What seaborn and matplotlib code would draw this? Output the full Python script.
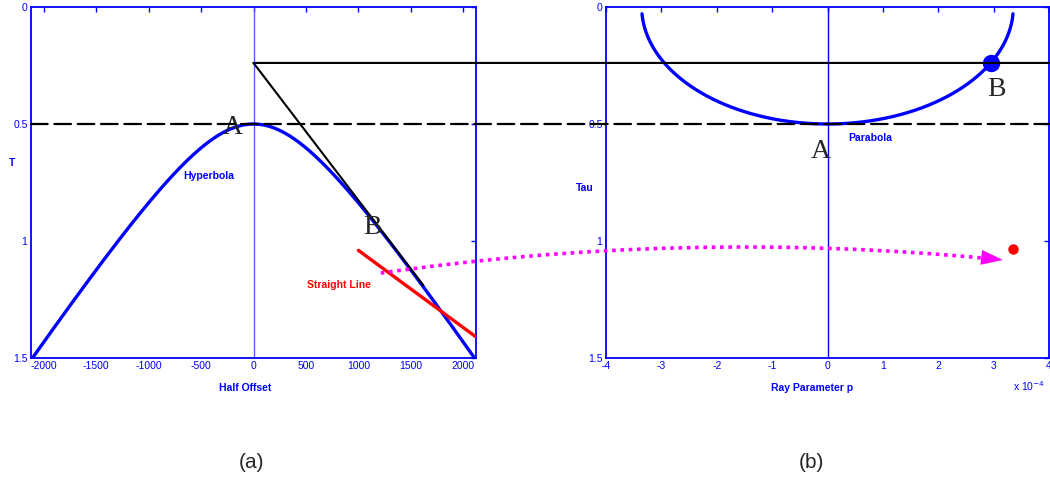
import numpy as np
import pandas as pd
import matplotlib
matplotlib.use("Agg")
import matplotlib.pyplot as plt
from matplotlib.patches import ConnectionPatch
import seaborn as sns

# Model parameters: zero-offset time and velocity of the reflection
t0 = 0.5
velocity = 2980.0

# Axis ranges and ticks
half_offset_lim = [-2121, 2121]
half_offset_ticks = [-2000, -1500, -1000, -500, 0, 500, 1000, 1500, 2000]
p_lim = [-4e-4, 4e-4]
p_ticks = [-4e-4, -3e-4, -2e-4, -1e-4, 0, 1e-4, 2e-4, 3e-4, 4e-4]
p_tick_labels = ["-4", "-3", "-2", "-1", "0", "1", "2", "3", "4"]
time_ticks = [0, 0.5, 1, 1.5]
time_tick_labels = ["0", "0.5", "1", "1.5"]

# Tangent at point B and its (tau, p) image
p_B = 2.948e-4
tau_B = 0.239
tangent_h = [0, 1620]
tangent_t = [tau_B, 1.19]

# Straight line in the x-t domain and its image point
line_h = [1000, 2121]
line_t = [1.04, 1.41]
line_point_p = 3.345e-4
line_point_tau = 1.034

# Mapping arrow: start in (h, t), tip in (p, tau)
arrow_start = (1213, 1.137)
arrow_tip = (3.165e-4, 1.081)

# Curves: hyperbola t(h) and its tau-p image
h = np.linspace(half_offset_lim[0], half_offset_lim[1], 600)
t_hyp = np.sqrt(t0**2 + (2 * h / velocity) ** 2)
p_max = 3.35e-4
p = np.linspace(-p_max, p_max, 600)
tau_curve = t0 * np.sqrt(np.clip(1 - (p * velocity) ** 2, 0, None))

hyp_df = pd.DataFrame({"h": h, "t": t_hyp})
par_df = pd.DataFrame({"p": p, "tau": tau_curve})
line_df = pd.DataFrame({"h": line_h, "t": line_t})
tan_df = pd.DataFrame({"h": tangent_h, "t": tangent_t})

sns.set_style("white")
plt.rcParams["font.family"] = ["Liberation Sans", "DejaVu Sans"]

BLUE = "#0000ff"
MAGENTA = "#ff00ff"
W, H = 1050, 482
fig = plt.figure(figsize=(W / 100, H / 100), dpi=100)
ax_a = fig.add_axes([31 / W, 124 / H, 445 / W, 351 / H])
ax_b = fig.add_axes([606 / W, 124 / H, 443 / W, 351 / H])

for ax in (ax_a, ax_b):
    ax.set_facecolor("white")
    for s in ax.spines.values():
        s.set_color(BLUE)
        s.set_linewidth(1.3)
        s.set_visible(True)
    ax.tick_params(direction="in", length=3.5, width=1, colors=BLUE,
                   labelsize=7.5, top=True, right=True, pad=2.5)
    ax.set_ylim(1.5, 0)
    ax.set_yticks(time_ticks)
    ax.set_yticklabels(time_tick_labels)
    ax.set_xlabel("")
    ax.set_ylabel("")

# ---- (a) x-t domain ----
ax_a.axvline(0, color="#5a5aff", lw=1.0, zorder=1)
sns.lineplot(data=hyp_df, x="h", y="t", ax=ax_a, color=BLUE, lw=2.4,
             sort=False, zorder=3)
sns.lineplot(data=line_df, x="h", y="t", ax=ax_a, color="#ff0000", lw=2.4,
             sort=False, zorder=4)
sns.lineplot(data=tan_df, x="h", y="t", ax=ax_a, color="black", lw=1.5,
             sort=False, zorder=5)
ax_a.set_xlim(half_offset_lim)
ax_a.set_ylim(1.5, 0)
ax_a.set_xticks(half_offset_ticks)
ax_a.set_xticklabels([str(v) for v in half_offset_ticks])
ax_a.set_xlabel("")
ax_a.set_ylabel("")

ax_a.text(-200, 0.5, "A", family="Liberation Serif", fontsize=20,
          ha="center", va="center_baseline", zorder=6)
ax_a.text(1137, 0.93, "B", family="Liberation Serif", fontsize=20,
          ha="center", va="center_baseline", zorder=6)
ax_a.text(-425, 0.722, "Hyperbola", color=BLUE, fontsize=7.5,
          fontweight="bold", ha="center", va="center")
ax_a.text(812, 1.188, "Straight Line", color="#ff0000", fontsize=7.5,
          fontweight="bold", ha="center", va="center")

# ---- (b) tau-p domain ----
ax_b.axvline(0, color=BLUE, lw=1.0, zorder=1)
sns.lineplot(data=par_df, x="p", y="tau", ax=ax_b, color=BLUE, lw=2.4,
             sort=False, zorder=3)
ax_b.plot([p_B], [tau_B], "o", color=BLUE, ms=11.5, zorder=6)
ax_b.plot([line_point_p], [line_point_tau], "o", color="#ff0000", ms=6.5,
          zorder=6)
ax_b.set_xlim(p_lim)
ax_b.set_ylim(1.5, 0)
ax_b.set_xticks(p_ticks)
ax_b.set_xticklabels(p_tick_labels)
ax_b.set_xlabel("")
ax_b.set_ylabel("")

ax_b.text(-0.13e-4, 0.603, "A", family="Liberation Serif", fontsize=20,
          ha="center", va="center_baseline", zorder=6)
ax_b.text(3.06e-4, 0.338, "B", family="Liberation Serif", fontsize=20,
          ha="center", va="center_baseline", zorder=6)
ax_b.text(0.78e-4, 0.56, "Parabola", color=BLUE, fontsize=7.5,
          fontweight="bold", ha="center", va="center")

# ---- lines spanning both panels ----
dashed = ConnectionPatch(xyA=(half_offset_lim[0], t0), coordsA=ax_a.transData,
                         xyB=(p_lim[1], t0), coordsB=ax_b.transData,
                         color="black", lw=1.6, linestyle=(0, (7.5, 3)),
                         zorder=7)
fig.add_artist(dashed)
tau_line = ConnectionPatch(xyA=(0, tau_B), coordsA=ax_a.transData,
                           xyB=(p_lim[1], tau_B), coordsB=ax_b.transData,
                           color="black", lw=1.5, zorder=7)
fig.add_artist(tau_line)

# dotted mapping curve (body) ...
mapping = ConnectionPatch(xyA=arrow_start, coordsA=ax_a.transData,
                          xyB=arrow_tip, coordsB=ax_b.transData,
                          arrowstyle="-", shrinkA=0, shrinkB=12,
                          connectionstyle="arc3,rad=-0.061",
                          color=MAGENTA, lw=2.6, linestyle=(0, (1, 1.3)),
                          capstyle="butt", zorder=8)
fig.add_artist(mapping)
# ... and its solid arrowhead
ax_b.annotate("", xy=arrow_tip, xycoords="data",
              xytext=(arrow_tip[0] - 0.28e-4, arrow_tip[1] - 0.008),
              arrowprops=dict(arrowstyle="-|>,head_length=1.3,head_width=0.45",
                              color=MAGENTA, lw=0.01, shrinkA=0, shrinkB=0,
                              mutation_scale=12),
              zorder=9)

# ---- axis labels and captions ----
def ftext(x, y, s, **kw):
    fig.text(x / W, 1 - y / H, s, **kw)

ftext(12, 163, "T", color=BLUE, fontsize=7.5, fontweight="bold",
      ha="center", va="center")
ftext(585, 188, "Tau", color=BLUE, fontsize=7.5, fontweight="bold",
      ha="center", va="center")
ftext(245, 388, "Half Offset", color=BLUE, fontsize=7.5, fontweight="bold",
      ha="center", va="center")
ftext(812, 388, "Ray Parameter p", color=BLUE, fontsize=7.5,
      fontweight="bold", ha="center", va="center")
ftext(1013, 386, r"x 10$^{-4}$", color=BLUE, fontsize=7.5,
      ha="left", va="center")
ftext(251, 463, "(a)", fontsize=15, ha="center", va="center")
ftext(811, 463, "(b)", fontsize=15, ha="center", va="center")

fig.savefig("out.png", dpi=100, facecolor="white")
